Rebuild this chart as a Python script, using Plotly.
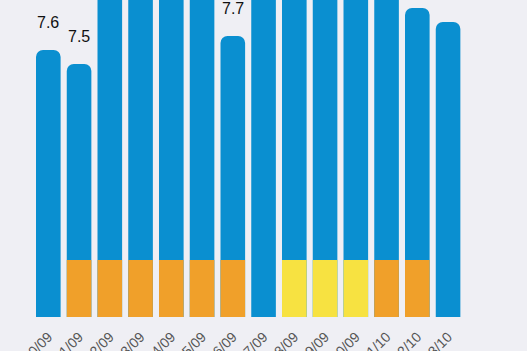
import plotly.graph_objects as go

dates = ["20/09", "21/09", "22/09", "23/09", "24/09", "25/09", "26/09",
         "27/09", "28/09", "29/09", "30/09", "01/10", "02/10", "03/10"]
totals = [7.6, 7.5, 8.3, 8.6, 8.1, 8.4, 7.7, 8.9, 8.2, 8.5, 8.0, 8.7, 7.9, 7.8]
orange_days = ["21/09", "22/09", "23/09", "24/09", "25/09", "26/09", "01/10", "02/10"]
orange_vals = [6.1, 6.1, 6.1, 6.1, 6.1, 6.1, 6.1, 6.1]
yellow_days = ["28/09", "29/09", "30/09"]
yellow_vals = [6.1, 6.1, 6.1]

BLUE = "#0a8fd0"
ORANGE = "#f0a02a"
YELLOW = "#f7e241"
BG = "#efeff4"

fig = go.Figure()
fig.add_trace(go.Bar(x=dates, y=totals, marker=dict(color=BLUE, cornerradius=7, line=dict(width=0)),
                     hoverinfo="skip"))
fig.add_trace(go.Bar(x=orange_days, y=orange_vals, marker=dict(color=ORANGE, cornerradius=0, line=dict(width=0)),
                     hoverinfo="skip"))
fig.add_trace(go.Bar(x=yellow_days, y=yellow_vals, marker=dict(color=YELLOW, cornerradius=0, line=dict(width=0)),
                     hoverinfo="skip"))

for d, v in zip(dates, totals):
    fig.add_annotation(x=d, y=v, text=f"{v:.1f}", showarrow=False, yanchor="bottom",
                       yshift=17, font=dict(size=16, color="#111111", family="Liberation Sans, Arial, sans-serif"))

fig.update_layout(
    width=527, height=351,
    margin=dict(l=0, r=0, t=0, b=34, autoexpand=False),
    paper_bgcolor=BG, plot_bgcolor=BG,
    barmode="overlay", bargap=0.2,
    showlegend=False,
    xaxis=dict(type="category", categoryorder="array", categoryarray=dates, automargin=False,
               range=[-1.571, 15.567], showgrid=False, zeroline=False, showline=False,
               ticks="", tickangle=-45, ticklabelstandoff=8,
               tickfont=dict(size=14, color="#555555", family="Liberation Sans, Arial, sans-serif")),
    yaxis=dict(range=[5.693, 7.957], visible=False, showgrid=False, zeroline=False, automargin=False),
)

fig.write_html("out.html")
